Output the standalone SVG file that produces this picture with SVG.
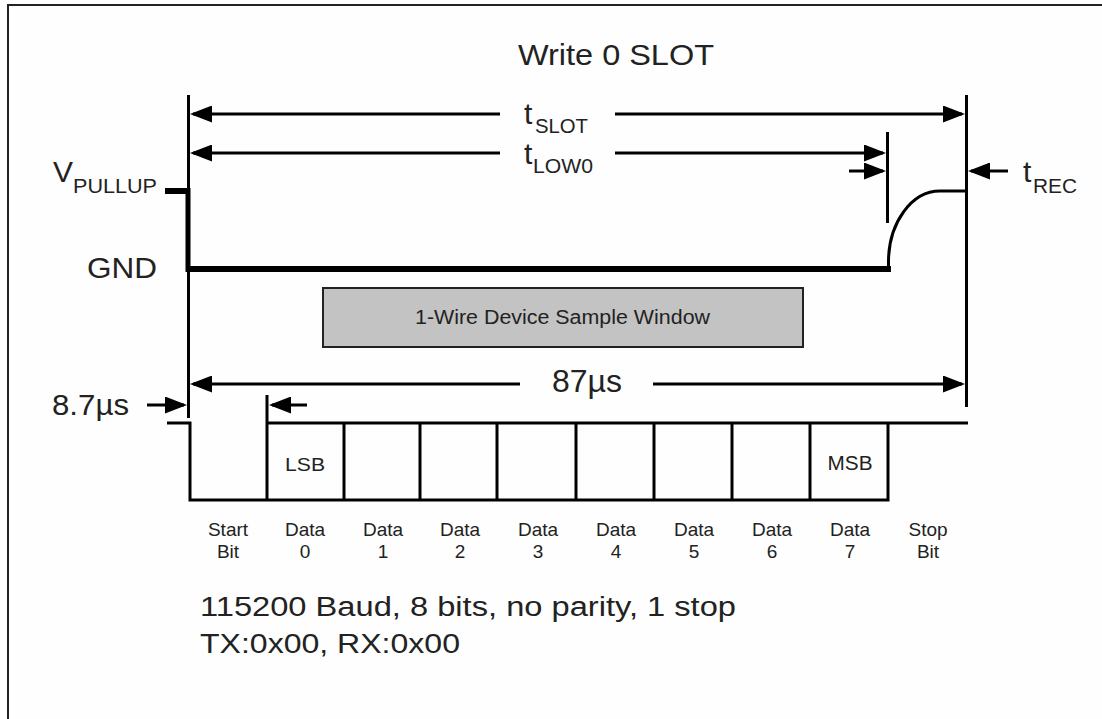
<svg xmlns="http://www.w3.org/2000/svg" width="1102" height="719" viewBox="0 0 1102 719">
<style>
  text { font-family: "Liberation Sans", Arial, sans-serif; fill: #222; }
  .big { font-size: 30px; }
  .sub { font-size: 20px; }
  .lbl { font-size: 19px; text-anchor: middle; }
  .ln { stroke: #000; stroke-width: 3; fill: none; }
  .sig { stroke: #000; fill: none; }
</style>
<defs>
  <marker id="ah" viewBox="0 0 22 17" refX="19" refY="8.5" markerWidth="22" markerHeight="17" markerUnits="userSpaceOnUse" orient="auto">
    <path d="M0,0 L22,8.5 L0,17 Z" fill="#000"/>
  </marker>
</defs>
<rect x="0" y="0" width="1102" height="719" fill="#fff"/>
<rect x="8" y="5" width="1100" height="720" fill="#fdfefd" stroke="#222" stroke-width="2"/>

<g id="title"><text class="big" x="518" y="65" textLength="196" lengthAdjust="spacingAndGlyphs">Write 0 SLOT</text></g>

<g id="verticals">
  <line class="ln" x1="188.5" y1="95" x2="188.5" y2="418"/>
  <line class="ln" x1="966.5" y1="95" x2="966.5" y2="407"/>
  <line class="ln" x1="887.5" y1="132" x2="887.5" y2="223"/>
</g>

<g id="signal">
  <line class="sig" x1="165" y1="191" x2="190" y2="191" stroke-width="6"/>
  <line class="sig" x1="188" y1="188" x2="188" y2="272" stroke-width="5"/>
  <line class="sig" x1="186" y1="269" x2="891" y2="269" stroke-width="6"/>
  <path class="sig" d="M888.5,270 L888.5,262 A51.5,71 0 0 1 940,191 L966,191" stroke-width="3"/>
</g>

<g id="sample-window">
  <rect x="323" y="288" width="480" height="59" fill="#c3c3c3" stroke="#222" stroke-width="2"/>
  <text x="415" y="324" font-size="20" textLength="295" lengthAdjust="spacingAndGlyphs">1-Wire Device Sample Window</text>
</g>

<g id="connectors">
  <line class="ln" x1="500" y1="114" x2="193" y2="114" marker-end="url(#ah)"/>
  <line class="ln" x1="615" y1="114" x2="962" y2="114" marker-end="url(#ah)"/>
  <line class="ln" x1="500" y1="153" x2="193" y2="153" marker-end="url(#ah)"/>
  <line class="ln" x1="615" y1="153" x2="883" y2="153" marker-end="url(#ah)"/>
  <line class="ln" x1="849" y1="171" x2="883" y2="171" marker-end="url(#ah)"/>
  <line class="ln" x1="1008" y1="171" x2="971" y2="171" marker-end="url(#ah)"/>
  <line class="ln" x1="520" y1="384" x2="193" y2="384" marker-end="url(#ah)"/>
  <line class="ln" x1="653" y1="384" x2="962" y2="384" marker-end="url(#ah)"/>
  <line class="ln" x1="147" y1="405" x2="184" y2="405" marker-end="url(#ah)"/>
  <line class="ln" x1="307" y1="405" x2="272" y2="405" marker-end="url(#ah)"/>
</g>

<g id="labels">
  <text><tspan class="big" x="524" y="124">t</tspan><tspan class="sub" x="535" y="133" textLength="53" lengthAdjust="spacingAndGlyphs">SLOT</tspan></text>
  <text><tspan class="big" x="524" y="164">t</tspan><tspan class="sub" x="533" y="173" textLength="60" lengthAdjust="spacingAndGlyphs">LOW0</tspan></text>
  <text><tspan class="big" x="1023" y="182">t</tspan><tspan class="sub" x="1033" y="193" textLength="44" lengthAdjust="spacingAndGlyphs">REC</tspan></text>
  <text><tspan class="big" x="53" y="182">V</tspan><tspan class="sub" x="73" y="193" textLength="84" lengthAdjust="spacingAndGlyphs">PULLUP</tspan></text>
  <text class="big" x="87" y="278" textLength="70" lengthAdjust="spacingAndGlyphs">GND</text>
  <text x="52" y="415" font-size="29" textLength="77" lengthAdjust="spacingAndGlyphs">8.7µs</text>
  <text x="552" y="392" font-size="31" textLength="70" lengthAdjust="spacingAndGlyphs">87µs</text>
</g>

<g id="uart-frame">
  <path class="ln" d="M167,423 H190 V500 H888 V423 M267,500 V395 M267,423 H968 M344,423 V500 M420,423 V500 M497,423 V500 M576,423 V500 M654,423 V500 M732,423 V500 M810,423 V500"/>
  <text x="305" y="471" font-size="19" text-anchor="middle" textLength="40" lengthAdjust="spacingAndGlyphs">LSB</text>
  <text x="850" y="470" font-size="20" text-anchor="middle" textLength="45" lengthAdjust="spacingAndGlyphs">MSB</text>
</g>

<g id="bit-labels">
  <text class="lbl" x="228" y="536">Start</text><text class="lbl" x="228" y="558">Bit</text>
  <text class="lbl" x="305" y="536">Data</text><text class="lbl" x="305" y="558">0</text>
  <text class="lbl" x="383" y="536">Data</text><text class="lbl" x="383" y="558">1</text>
  <text class="lbl" x="460" y="536">Data</text><text class="lbl" x="460" y="558">2</text>
  <text class="lbl" x="538" y="536">Data</text><text class="lbl" x="538" y="558">3</text>
  <text class="lbl" x="616" y="536">Data</text><text class="lbl" x="616" y="558">4</text>
  <text class="lbl" x="694" y="536">Data</text><text class="lbl" x="694" y="558">5</text>
  <text class="lbl" x="772" y="536">Data</text><text class="lbl" x="772" y="558">6</text>
  <text class="lbl" x="850" y="536">Data</text><text class="lbl" x="850" y="558">7</text>
  <text class="lbl" x="928" y="536">Stop</text><text class="lbl" x="928" y="558">Bit</text>
</g>

<g id="notes">
  <text x="200" y="616" font-size="27" textLength="536" lengthAdjust="spacingAndGlyphs">115200 Baud, 8 bits, no parity, 1 stop</text>
  <text x="200" y="653" font-size="27" textLength="260" lengthAdjust="spacingAndGlyphs">TX:0x00, RX:0x00</text>
</g>
</svg>
